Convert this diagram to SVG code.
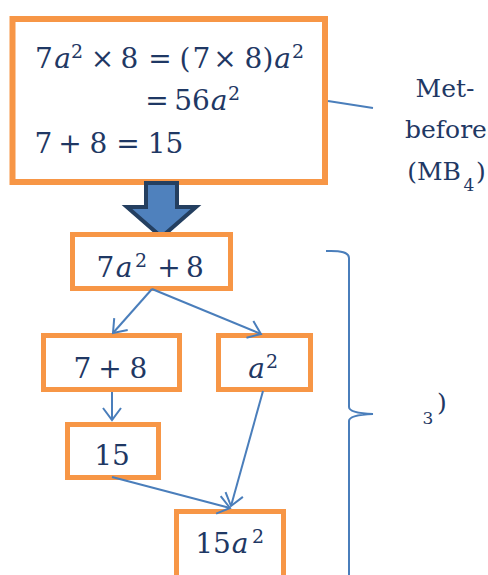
<svg xmlns="http://www.w3.org/2000/svg" width="488" height="575" viewBox="0 0 488 575">
<defs>
<style>
.box{fill:#fff;stroke:#F79646;stroke-width:5}
.m{font-family:"DejaVu Serif",serif;font-size:28px;fill:#1F3864}
.i{font-style:italic}
.s{font-size:19px}
.lbl{font-family:"DejaVu Serif",serif;font-size:25px;fill:#1F3864}
.ls{font-size:17px}
.c{fill:none;stroke:#4A7EBB;stroke-width:2}
</style>
<marker id="ah" markerUnits="userSpaceOnUse" markerWidth="16" markerHeight="22" refX="13" refY="11" orient="auto" viewBox="0 0 16 22">
<path d="M1,2 L13,11 L1,20" fill="none" stroke="#4A7EBB" stroke-width="2"/>
</marker>
</defs>
<rect width="488" height="575" fill="#fff"/>

<g id="n-formula">
<rect class="box" x="12.5" y="19" width="312.5" height="163" style="stroke-width:6"/>
<text class="m" y="68" text-anchor="middle"><tspan x="44">7</tspan><tspan class="i" x="62.5">a</tspan><tspan class="s" x="77" y="58">2</tspan><tspan x="102.5" y="68">×</tspan><tspan x="129.5">8</tspan><tspan x="160">=</tspan><tspan x="185">(</tspan><tspan x="201.5">7</tspan><tspan x="225">×</tspan><tspan x="253.5">8</tspan><tspan x="268">)</tspan><tspan class="i" x="282.5">a</tspan><tspan class="s" x="298" y="58">2</tspan></text>
<text class="m" y="110" text-anchor="middle"><tspan x="157">=</tspan><tspan x="192">56</tspan><tspan class="i" x="219">a</tspan><tspan class="s" x="234" y="100">2</tspan></text>
<text class="m" y="153" text-anchor="middle"><tspan x="43.5">7</tspan><tspan x="70">+</tspan><tspan x="98.5">8</tspan><tspan x="128">=</tspan><tspan x="165.5">15</tspan></text>
</g>

<g id="n-arrow">
<path d="M146,183 H177 V207 H196 L161.5,237 L127,207 H146 Z" fill="#4F81BD" stroke="#243F60" stroke-width="4"/>
</g>

<g id="n-sum">
<rect class="box" x="72.5" y="234.5" width="158" height="54"/>
<text class="m" y="277" text-anchor="middle"><tspan x="105.5">7</tspan><tspan class="i" x="124">a</tspan><tspan class="s" x="141" y="267">2</tspan><tspan x="169" y="277">+</tspan><tspan x="195">8</tspan></text>
</g>

<g id="n-78">
<rect class="box" x="43.5" y="335.5" width="136" height="54"/>
<text class="m" y="378" text-anchor="middle"><tspan x="82.5">7</tspan><tspan x="110">+</tspan><tspan x="138.5">8</tspan></text>
</g>

<g id="n-a2">
<rect class="box" x="218.5" y="335.5" width="92" height="54"/>
<text class="m" y="378" text-anchor="middle"><tspan class="i" x="256.5">a</tspan><tspan class="s" x="272" y="368">2</tspan></text>
</g>

<g id="n-15">
<rect class="box" x="67.5" y="424.5" width="91" height="53"/>
<text class="m" x="112" y="465" text-anchor="middle">15</text>
</g>

<g id="n-15a2">
<rect class="box" x="176.5" y="511.5" width="107" height="75"/>
<text class="m" y="553" text-anchor="middle"><tspan x="213">15</tspan><tspan class="i" x="240">a</tspan><tspan class="s" x="258" y="543">2</tspan></text>
</g>

<g id="n-label">
<text class="lbl" text-anchor="middle" x="445" y="97">Met-</text>
<text class="lbl" text-anchor="middle" x="446" y="138">before</text>
<text class="lbl" y="180" text-anchor="middle"><tspan x="434">(MB</tspan><tspan class="ls" x="469" y="191">4</tspan><tspan x="481" y="180">)</tspan></text>
</g>

<g id="n-label2">
<text class="lbl" y="411" text-anchor="middle"><tspan class="ls" x="428" y="424">3</tspan><tspan x="442" y="411">)</tspan></text>
</g>

<g id="connectors">
<line class="c" x1="328" y1="101" x2="373" y2="108"/>
<line class="c" x1="152" y1="289" x2="113" y2="333" marker-end="url(#ah)"/>
<line class="c" x1="152" y1="289" x2="261" y2="334" marker-end="url(#ah)"/>
<line class="c" x1="112" y1="392" x2="112" y2="420" marker-end="url(#ah)"/>
<line class="c" x1="112" y1="477" x2="230" y2="508" marker-end="url(#ah)"/>
<line class="c" x1="263" y1="391" x2="231" y2="506" marker-end="url(#ah)"/>
<path class="c" d="M326,251 Q349,250 349,258 V407 Q349,413 373,414 Q349,415 349,421 V580"/>
</g>
</svg>
